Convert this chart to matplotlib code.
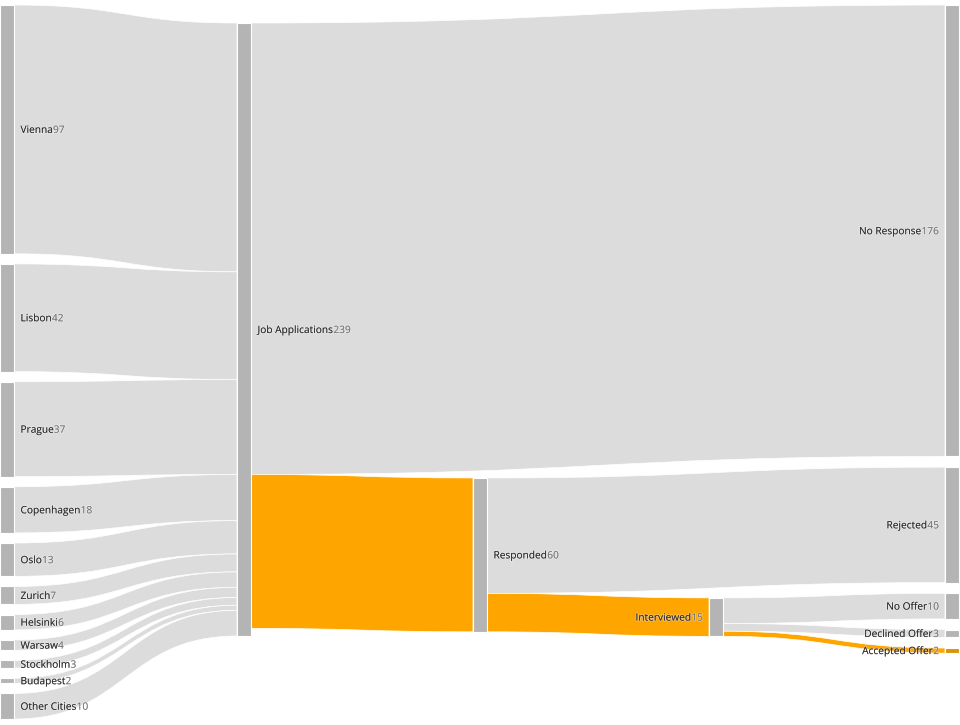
import matplotlib
matplotlib.use('Agg')
import matplotlib.pyplot as plt
import matplotlib.patheffects as pe
from matplotlib.path import Path
from matplotlib.patches import PathPatch, Rectangle

plt.rcParams['font.family'] = ['Open Sans', 'DejaVu Sans']

# data
cities = ['Vienna', 'Lisbon', 'Prague', 'Copenhagen', 'Oslo', 'Zurich',
          'Helsinki', 'Warsaw', 'Stockholm', 'Budapest', 'Other Cities']
city_counts = [97, 42, 37, 18, 13, 7, 6, 4, 3, 2, 10]

stage_links = [
    ('Job Applications', 'No Response', 176),
    ('Job Applications', 'Responded', 60),
    ('Responded', 'Rejected', 45),
    ('Responded', 'Interviewed', 15),
    ('Interviewed', 'No Offer', 10),
    ('Interviewed', 'Declined Offer', 3),
    ('Interviewed', 'Accepted Offer', 2),
]
highlight = ['Responded', 'Interviewed', 'Accepted Offer']

# layout (pixels)
W, H = 960, 725
scale = 2.565
node_w = 14
col_x = [0, 237, 473, 709, 945]
GREY_LINK = '#dcdcdc'
GREY_NODE = '#b4b4b4'
ORANGE = '#ffa500'
FS = 7.3
NAME_C = '#2b2b2b'
VAL_C = '#777777'

links = [(c, 'Job Applications', v) for c, v in zip(cities, city_counts)] + stage_links
outcomes = ['No Response', 'Rejected', 'No Offer', 'Declined Offer', 'Accepted Offer']
col_of = {c: 0 for c in cities}
col_of.update({'Job Applications': 1, 'Responded': 2, 'Interviewed': 3})
col_of.update({o: 4 for o in outcomes})

node_in = {}
node_out = {}
for s, t, v in links:
    node_out[s] = node_out.get(s, 0) + v
    node_in[t] = node_in.get(t, 0) + v
node_val = {n: max(node_in.get(n, 0), node_out.get(n, 0)) for n in col_of}

top = {}
y = 5
for c in cities:
    top[c] = y
    y += node_val[c] * scale + 10.1
y = 5
for o in outcomes:
    top[o] = y
    y += node_val[o] * scale + 10.7

top['Job Applications'] = 23
# middle nodes sit just below the incoming link start
top['Responded'] = top['Job Applications'] + 176 * scale + 3.5
top['Interviewed'] = top['Responded'] + 45 * scale + 4.5

fig = plt.figure(figsize=(9.6, 7.25), dpi=100)
ax = fig.add_axes([0, 0, 1, 1])
ax.set_xlim(0, W)
ax.set_ylim(H, 0)
ax.axis('off')

out_off = {}
in_off = {}
for s, t, v in links:
    h = v * scale
    y0 = top[s] + out_off.get(s, 0)
    y1 = top[t] + in_off.get(t, 0)
    out_off[s] = out_off.get(s, 0) + h
    in_off[t] = in_off.get(t, 0) + h
    x0 = col_x[col_of[s]] + node_w
    x1 = col_x[col_of[t]]
    xm = (x0 + x1) / 2
    verts = [(x0, y0), (xm, y0), (xm, y1), (x1, y1),
             (x1, y1 + h), (xm, y1 + h), (xm, y0 + h), (x0, y0 + h), (x0, y0)]
    codes = [Path.MOVETO, Path.CURVE4, Path.CURVE4, Path.CURVE4,
             Path.LINETO, Path.CURVE4, Path.CURVE4, Path.CURVE4, Path.CLOSEPOLY]
    color = ORANGE if t in highlight else GREY_LINK
    ax.add_patch(PathPatch(Path(verts, codes), facecolor=color,
                           edgecolor='white', lw=0.5, zorder=1))

renderer = fig.canvas.get_renderer()
halo = [pe.withStroke(linewidth=1.2, foreground=(1, 1, 1, 0.35))]

for n, c in col_of.items():
    h = node_val[n] * scale
    color = '#d9940b' if n == 'Accepted Offer' else GREY_NODE
    ax.add_patch(Rectangle((col_x[c], top[n]), node_w, h, facecolor=color,
                           edgecolor='white', lw=0.8, zorder=2))
    yc = top[n] + h / 2 + 1
    val = str(node_val[n])
    if col_x[c] < W / 2 + 20:
        t1 = ax.text(col_x[c] + node_w + 6.5, yc, n, ha='left', va='center',
                     fontsize=FS, color=NAME_C, zorder=3, path_effects=halo)
        bb = t1.get_window_extent(renderer)
        ax.text(bb.x1, yc, val, ha='left', va='center',
                fontsize=FS, color=VAL_C, zorder=3, path_effects=halo)
    else:
        t1 = ax.text(col_x[c] - 6, yc, val, ha='right', va='center',
                     fontsize=FS, color=VAL_C, zorder=3, path_effects=halo)
        bb = t1.get_window_extent(renderer)
        ax.text(bb.x0, yc, n, ha='right', va='center',
                fontsize=FS, color=NAME_C, zorder=3, path_effects=halo)

fig.savefig('out.png', dpi=100)
